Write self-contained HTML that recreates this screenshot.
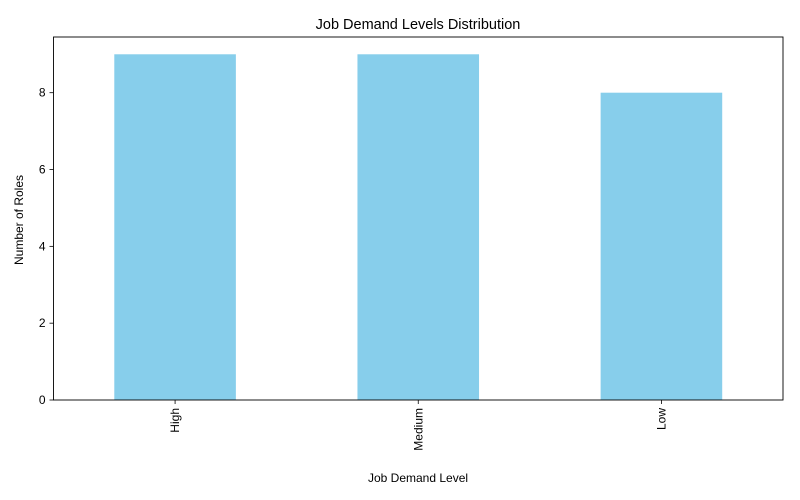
<!DOCTYPE html>
<html><head><meta charset="utf-8"><style>
body{margin:0;background:#fff;}
svg{display:block;font-family:"Liberation Sans","DejaVu Sans",sans-serif;}
</style></head><body>
<svg id="chart" width="800" height="500">
<text x="418" y="29" font-size="14.5" text-anchor="middle" fill="#000">Job Demand Levels Distribution</text>
<g id="bars"></g>
<g id="axes"></g>
<text x="418" y="482" font-size="12" text-anchor="middle">Job Demand Level</text>
<text transform="translate(23,220) rotate(-90)" font-size="12" text-anchor="middle">Number of Roles</text>
</svg>
<script>
const categories = ["High","Medium","Low"];
const values = [9,9,8];
const yTicks = [0,2,4,6,8];
const L=53.5,R=783,T=37,B=400,yMax=9.45;
const NS="http://www.w3.org/2000/svg";
const band=(R-L)/categories.length;
const xc=i=>L+band*(i+0.5);
const y=v=>B-(v/yMax)*(B-T);
function mk(tag,attrs,parent){const e=document.createElementNS(NS,tag);for(const k in attrs)e.setAttribute(k,attrs[k]);parent.appendChild(e);return e;}
const bars=document.getElementById('bars'),axes=document.getElementById('axes');
categories.forEach((c,i)=>{
  const r=mk('rect',{x:xc(i)-band/4,y:y(values[i]),width:band/2,height:B-y(values[i]),fill:'#87ceeb'},bars);
  
  
  const t=mk('line',{x1:xc(i),x2:xc(i),y1:B,y2:B+4,stroke:'#000','stroke-width':0.8},axes);
  
  
  const lb=mk('text',{transform:`translate(${xc(i)+4},${B+8}) rotate(-90)`,'font-size':12,'text-anchor':'end'},axes);
  lb.textContent=c;
  
  
});
yTicks.forEach(v=>{
  const t=mk('line',{x1:L-4,x2:L,y1:y(v),y2:y(v),stroke:'#000','stroke-width':0.8},axes);
  
  
  const lb=mk('text',{x:L-8,y:y(v)+4,'font-size':12,'text-anchor':'end'},axes);
  lb.textContent=v;
  
  
});
const fr=mk('rect',{x:L,y:T,width:R-L,height:B-T,fill:'none',stroke:'#000','stroke-width':0.9},axes);


</script>
</body></html>
